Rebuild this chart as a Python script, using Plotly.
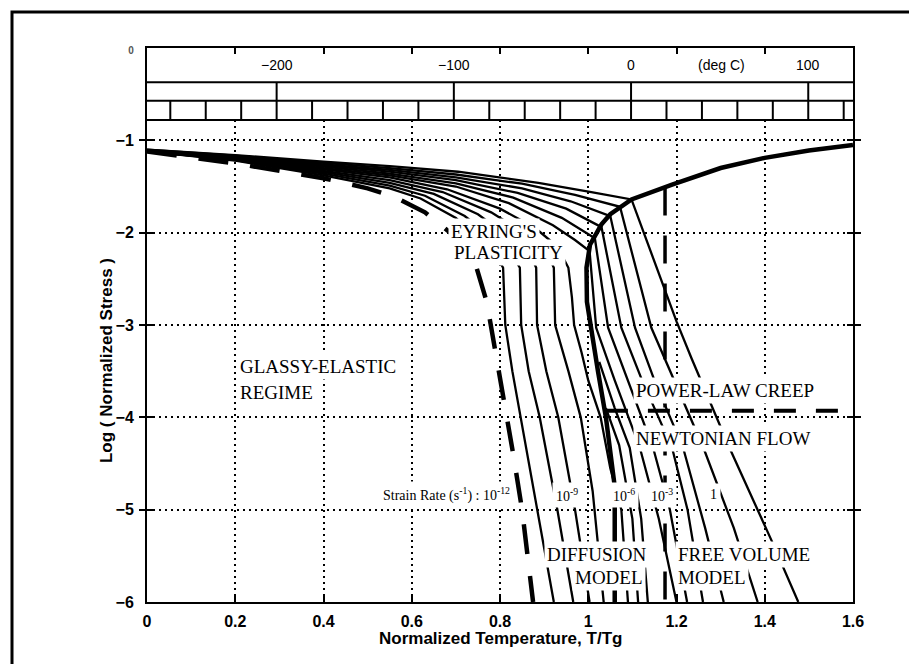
import plotly.graph_objects as go

# ---------------- axes / ticks ----------------
x_tick_vals = [0, 0.2, 0.4, 0.6, 0.8, 1.0, 1.2, 1.4, 1.6]
x_tick_text = ["0", "0.2", "0.4", "0.6", "0.8", "1", "1.2", "1.4", "1.6"]
y_tick_vals = [-6, -5, -4, -3, -2, -1, 0]
y_tick_text = ["−6", "−5", "−4", "−3", "−2", "−1",
               "<span style='font-size:10px;color:#555'>0</span>"]

# ---------------- temperature (deg C) scale ----------------
TG_KELVIN = 249.0
degc_major = [-200, -100, 0, 100]
degc_major_text = ["−200", "−100", "0", "100"]
degc_minor = [-260, -240, -220, -200, -180, -160, -140, -120, -100, -80,
              -60, -40, -20, 0, 20, 40, 60, 80, 100, 120]
degc_unit_pos = 51

# ---------------- strain-rate contours (T/Tg, log stress) ----------------
# dashed lowest-rate contour
k0_t = [0, 0.2, 0.4, 0.5, 0.56, 0.63, 0.7, 0.745, 0.77, 0.79, 0.81, 0.83, 0.85, 0.875]
k0_s = [-1.12, -1.25, -1.41, -1.52, -1.61, -1.78, -2.05, -2.35, -2.75, -3.3, -3.8, -4.4, -5.0, -6.0]

k1_t = [0, 0.2, 0.4, 0.55, 0.62, 0.7, 0.77, 0.8, 0.807, 0.812, 0.828, 0.847, 0.885, 0.922]
k1_s = [-1.12, -1.22, -1.38, -1.52, -1.63, -1.84, -2.15, -2.32, -2.38, -3.0, -3.5, -4.0, -5.0, -6.0]

k2_t = [0, 0.2, 0.4, 0.55, 0.63, 0.72, 0.8, 0.835, 0.845, 0.848, 0.865, 0.89, 0.93, 0.966]
k2_s = [-1.12, -1.215, -1.36, -1.49, -1.6, -1.82, -2.12, -2.3, -2.38, -3.0, -3.5, -4.0, -5.0, -6.0]

k3_t = [0, 0.2, 0.4, 0.55, 0.65, 0.75, 0.83, 0.87, 0.882, 0.884, 0.905, 0.932, 0.97, 1.003]
k3_s = [-1.12, -1.21, -1.345, -1.46, -1.58, -1.8, -2.08, -2.25, -2.38, -3.0, -3.5, -4.0, -5.0, -6.0]

k4_t = [0, 0.2, 0.4, 0.55, 0.67, 0.78, 0.86, 0.905, 0.922, 0.925, 0.955, 0.983, 1.01, 1.035]
k4_s = [-1.12, -1.205, -1.33, -1.43, -1.56, -1.78, -2.02, -2.2, -2.38, -3.0, -3.5, -4.0, -4.8, -6.0]

k5_t = [0, 0.2, 0.4, 0.55, 0.68, 0.8, 0.88, 0.93, 0.955, 0.963, 0.968, 0.985, 1.0, 1.028, 1.05, 1.075, 1.09]
k5_s = [-1.12, -1.2, -1.315, -1.4, -1.53, -1.74, -1.95, -2.15, -2.38, -2.7, -3.0, -3.3, -3.6, -4.0, -4.55, -5.0, -6.0]

k6_t = [1.04, 1.07, 1.10, 1.113]
k6_s = [-3.9, -4.3, -5.1, -6.0]

k7_t = [1.025, 1.06, 1.094, 1.12, 1.135]
k7_s = [-3.4, -3.9, -4.33, -5.1, -6.0]

k8_t = [0, 0.2, 0.4, 0.55, 0.7, 0.82, 0.92, 0.97, 1.003, 1.018, 1.06, 1.117, 1.16, 1.2]
k8_s = [-1.12, -1.19, -1.30, -1.38, -1.50, -1.68, -1.92, -2.08, -2.2, -3.03, -3.6, -4.33, -5.1, -6.0]

k9_t = [0, 0.2, 0.4, 0.55, 0.7, 0.83, 0.94, 1.015, 1.045, 1.09, 1.147, 1.185, 1.224]
k9_s = [-1.12, -1.18, -1.285, -1.36, -1.465, -1.62, -1.84, -2.06, -3.03, -3.6, -4.33, -5.0, -6.0]

k10_t = [0, 0.2, 0.4, 0.55, 0.7, 0.84, 0.95, 1.03, 1.075, 1.122, 1.19, 1.225, 1.26]
k10_s = [-1.11, -1.175, -1.27, -1.34, -1.43, -1.57, -1.74, -1.94, -3.03, -3.6, -4.33, -5.0, -6.0]

k11_t = [0, 0.2, 0.4, 0.55, 0.7, 0.85, 0.96, 1.05, 1.106, 1.15, 1.215, 1.265, 1.307]
k11_s = [-1.11, -1.17, -1.26, -1.32, -1.40, -1.52, -1.66, -1.82, -3.03, -3.6, -4.33, -5.2, -6.0]

k12_t = [0, 0.2, 0.4, 0.55, 0.7, 0.85, 0.97, 1.072, 1.143, 1.19, 1.261, 1.33, 1.384]
k12_s = [-1.10, -1.165, -1.245, -1.30, -1.37, -1.47, -1.59, -1.72, -3.03, -3.55, -4.33, -5.2, -6.0]

k13_t = [0, 0.2, 0.4, 0.55, 0.705, 0.887, 1.007, 1.098, 1.2, 1.234, 1.32, 1.415, 1.476]
k13_s = [-1.10, -1.16, -1.23, -1.28, -1.34, -1.46, -1.56, -1.64, -2.96, -3.36, -4.33, -5.33, -6.0]

# bold glass-transition boundary
bold_t = [1.6, 1.5, 1.4, 1.3, 1.19, 1.098, 1.05, 1.03, 1.004, 0.996, 0.997, 1.008, 1.022, 1.04, 1.053, 1.06, 1.06]
bold_s = [-1.05, -1.11, -1.19, -1.30, -1.48, -1.64, -1.80, -1.91, -2.13, -2.38, -2.75, -3.1, -3.5, -4.0, -4.55, -4.75, -6.0]

# diffusion / free-volume boundary and power-law / newtonian boundary
vdash_t = [1.174, 1.174]
vdash_s = [-1.51, -6.0]
hdash_t = [1.04, 1.6]
hdash_s = [-3.93, -3.93]

thin_curves = [(k1_t, k1_s), (k2_t, k2_s), (k3_t, k3_s), (k4_t, k4_s), (k5_t, k5_s),
               (k6_t, k6_s), (k7_t, k7_s), (k8_t, k8_s), (k9_t, k9_s), (k10_t, k10_s),
               (k11_t, k11_s), (k12_t, k12_s), (k13_t, k13_s)]

# bar levels (in log-stress units, inside the frame)
BAR_TOP, BAR_MID, BAR_BOT, BAR_LABEL = -0.37, -0.57, -0.78, -0.18

fig = go.Figure()

# temperature scale bar dividers (on a hidden deg-C axis)
mx, my = [], []
for c in degc_minor:
    mx += [c, c, None]
    my += [BAR_MID, BAR_BOT, None]
fig.add_trace(go.Scatter(x=mx, y=my, xaxis="x2", yaxis="y", mode="lines",
                         line=dict(color="black", width=2), hoverinfo="skip", showlegend=False))
Mx, My = [], []
for c in degc_major:
    Mx += [c, c, None]
    My += [BAR_TOP, BAR_MID, None]
fig.add_trace(go.Scatter(x=Mx, y=My, xaxis="x2", yaxis="y", mode="lines",
                         line=dict(color="black", width=2), hoverinfo="skip", showlegend=False))

for ct, cs in thin_curves:
    fig.add_trace(go.Scatter(x=ct, y=cs, mode="lines",
                             line=dict(color="black", width=2.3), showlegend=False))

fig.add_trace(go.Scatter(x=k0_t, y=k0_s, mode="lines",
                         line=dict(color="black", width=4.5, dash="30px,22px"), showlegend=False))
fig.add_trace(go.Scatter(x=bold_t, y=bold_s, mode="lines",
                         line=dict(color="black", width=4.5), showlegend=False))
fig.add_trace(go.Scatter(x=vdash_t, y=vdash_s, mode="lines",
                         line=dict(color="black", width=3.5, dash="28px,20px"), showlegend=False))
fig.add_trace(go.Scatter(x=hdash_t, y=hdash_s, mode="lines",
                         line=dict(color="black", width=4, dash="22px,20px"), showlegend=False))

shapes = [
    dict(type="rect", xref="x", yref="y", x0=0, x1=1.6, y0=0, y1=BAR_BOT,
         fillcolor="white", line=dict(width=0), layer="between"),
]
for lvl in [BAR_TOP, BAR_MID, BAR_BOT]:
    shapes.append(dict(type="line", xref="x", yref="y", x0=0, x1=1.6, y0=lvl, y1=lvl,
                       line=dict(color="black", width=2), layer="above"))
# outer scan frame
shapes.append(dict(type="rect", xref="paper", yref="paper",
                   x0=(4 - 139) / 706, x1=(913 - 139) / 706,
                   y0=(594 - 659) / 554, y1=(594 - 4) / 554,
                   line=dict(color="black", width=3), fillcolor="rgba(0,0,0,0)"))

serif = "Liberation Serif, Times New Roman, serif"
sans = "Liberation Sans, Arial, sans-serif"

ann = []
def region(text, x, y, xanchor="left", size=19):
    ann.append(dict(text=text, x=x, y=y, xref="x", yref="y", showarrow=False,
                    xanchor=xanchor, yanchor="middle", bgcolor="white", borderpad=2,
                    font=dict(family=serif, size=size, color="black")))

region("EYRING'S", 0.683, -1.99)
region("PLASTICITY", 0.689, -2.22)
region("GLASSY-ELASTIC", 0.205, -3.45)
region("REGIME", 0.205, -3.73)
region("POWER-LAW CREEP", 1.102, -3.71)
region("NEWTONIAN FLOW", 1.102, -4.23)
region("DIFFUSION", 1.14, -5.49, xanchor="right")
region("MODEL", 1.132, -5.74, xanchor="right")
region("FREE VOLUME", 1.197, -5.49)
region("MODEL", 1.197, -5.74)

def small(text, x, xanchor="center"):
    ann.append(dict(text=text, x=x, y=-4.84, xref="x", yref="y", showarrow=False,
                    xanchor=xanchor, yanchor="middle", bgcolor="white", borderpad=3,
                    font=dict(family=serif, size=14, color="black")))

small("Strain Rate (s<sup>-1</sup>) : 10<sup>-12</sup>", 0.525, xanchor="left")
small("10<sup>-9</sup>", 0.952)
small("10<sup>-6</sup>", 1.081)
small("10<sup>-3</sup>", 1.166)
small("1", 1.283)

# deg C labels inside the bar
for c, lab in zip(degc_major, degc_major_text):
    ann.append(dict(text=lab, x=c, y=BAR_LABEL, xref="x2", yref="y", showarrow=False,
                    xanchor="center", yanchor="middle",
                    font=dict(family=sans, size=14, color="black")))
ann.append(dict(text="(deg C)", x=degc_unit_pos, y=BAR_LABEL, xref="x2", yref="y",
                showarrow=False, xanchor="center", yanchor="middle",
                font=dict(family=sans, size=14, color="black")))

# axis titles
ann.append(dict(text="<b>Normalized Temperature, T/Tg</b>", x=0.8, y=(594 - 630) / 554,
                xref="x", yref="paper", showarrow=False, xanchor="center", yanchor="middle",
                font=dict(family=sans, size=17, color="black")))
ann.append(dict(text="<b>Log ( Normalized Stress )</b>", x=(98 - 139) / 706, y=-3.39,
                xref="paper", yref="y", showarrow=False, textangle=-90,
                xanchor="center", yanchor="middle",
                font=dict(family=sans, size=17, color="black")))

fig.update_layout(
    width=917, height=664,
    margin=dict(l=139, r=72, t=40, b=70),
    paper_bgcolor="white", plot_bgcolor="white",
    showlegend=False,
    shapes=shapes, annotations=ann,
    xaxis=dict(range=[0, 1.6], tickvals=x_tick_vals, ticktext=x_tick_text,
               showline=True, linecolor="black", linewidth=2, mirror="allticks",
               ticks="inside", ticklen=6, tickwidth=1.5, tickcolor="black",
               showgrid=True, gridcolor="black", gridwidth=1.5, griddash="2px,4px",
               zeroline=False, ticklabelstandoff=4,
               tickfont=dict(family=sans, size=16, color="black", weight="bold")),
    xaxis2=dict(range=[0 * TG_KELVIN - 273.15, 1.6 * TG_KELVIN - 273.15],
                overlaying="x", side="top", visible=False),
    yaxis=dict(range=[-6, 0], tickvals=y_tick_vals, ticktext=y_tick_text,
               showline=True, linecolor="black", linewidth=2, mirror="allticks",
               ticks="inside", ticklen=6, tickwidth=1.5, tickcolor="black",
               showgrid=True, gridcolor="black", gridwidth=1.5, griddash="2px,4px",
               zeroline=False, ticklabelstandoff=8,
               tickfont=dict(family=sans, size=16, color="black", weight="bold")),
)

fig.write_html("out.html")
